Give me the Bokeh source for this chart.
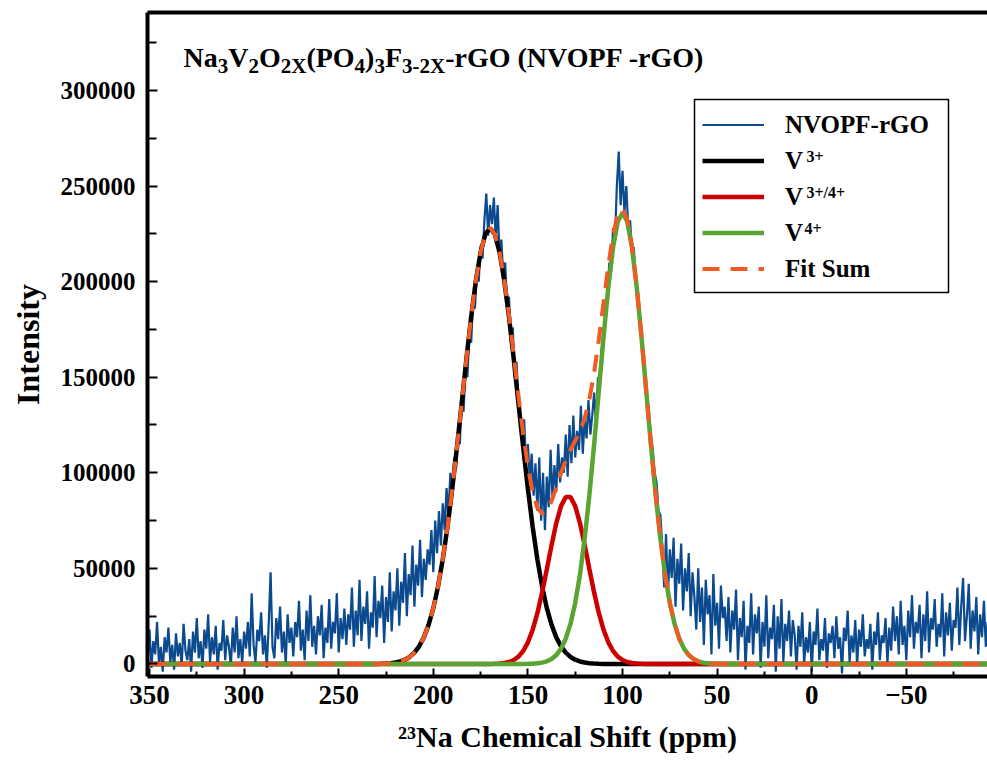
from bokeh.plotting import figure
from bokeh.models import Range1d, LinearAxis, FixedTicker, Label, Legend, LegendItem, BoxAnnotation
from bokeh.embed import file_html
from bokeh.resources import INLINE

# ---------------- data ----------------
# measured spectrum, 1 ppm steps from 351 to -93 ppm, intensity in thousands
spec_x = list(range(351, -94, -1))
spec_y_k = [
    # 351 .. 326
    3, 18, -2, 12, 5, 22, 0, 9, -4, 14, 6, 19, 1, 10, -3, 16, 4, 11, -1, 21, 7, 2, 13, -4, 17, 6,
    # 325 .. 300
    24, 3, 12, -2, 18, 8, 26, 1, 14, 5, 20, -3, 11, 7, 23, 2, 15, 9, -1, 19, 6, 25, 3, 13, 0, 17,
    # 299 .. 274
    8, 22, 4, 37, 10, 1, 18, 12, 27, 5, 15, -2, 21, 48, 9, 3, 24, 13, 30, 6, 17, 0, 26, 11, 19, 4,
    # 273 .. 247
    22, 14, 33, 7, 18, 2, 28, 12, 36, 9, 20, 5, 25, 15, 31, 3, 19, 11, 34, 8, 22, 16, 37, 6, 24, 13, 29,
    # 246 .. 221
    10, 26, 18, 40, 9, 28, 15, 44, 12, 30, 21, 38, 8, 27, 19, 46, 14, 33, 24, 41, 11, 35, 22, 48, 17, 38,
    # 220 .. 203
    28, 50, 20, 43, 32, 58, 25, 47, 36, 62, 30, 52, 41, 65, 35, 55, 44, 60,
    # 202 .. 186
    52, 70, 48, 75, 58, 80, 62, 84, 70, 92, 78, 100, 88, 108, 102, 120, 115,
    # 185 .. 155
    140, 132, 155, 150, 172, 168, 190, 186, 205, 200, 219, 212, 232, 246, 224, 240, 230, 244, 222, 240,
    214, 222, 200, 210, 186, 192, 168, 176, 150, 158, 136,
    # 154 .. 146
    125, 118, 128, 105, 115, 96, 110, 88, 105,
    # 145 .. 131
    80, 108, 75, 100, 70, 98, 82, 112, 86, 104, 90, 115, 95, 108, 100,
    # 130 .. 117
    120, 98, 125, 105, 130, 108, 122, 112, 135, 110, 128, 118, 138, 120,
    # 116 .. 110
    130, 142, 125, 150, 145, 165, 170,
    # 109 .. 90
    185, 192, 210, 205, 228, 222, 250, 268, 240, 258, 236, 250, 228, 232, 215, 218, 198, 196, 178, 176,
    # 89 .. 80
    160, 150, 140, 130, 120, 112, 100, 95, 80, 78,
    # 79 .. 63
    62, 40, 68, 35, 60, 45, 66, 30, 55, 42, 63, 28, 50, 38, 58, 25, 48,
    # 62 .. 45
    35, 18, 50, 22, 40, 10, 44, 26, 36, 5, 47, 20, 32, 8, 41, 24, 30, 12,
    # 44 .. 10
    35, 6, 28, 18, 39, 2, 24, 14, 33, -3, 20, 11, 37, 5, 26, 16, 30, -2, 22, 9, 36, 3, 19, 13, 31, -4,
    25, 8, 34, 1, 21, 12, 28, 4, 23,
    # 9 .. -43
    15, -3, 20, 9, 27, 0, 14, 6, 22, -4, 17, 10, 29, 2, 13, 7, 24, -2, 16, 11,
    20, 3, 25, 8, 14, -5, 19, 12, 28, 1, 15, 6, 23, -1, 18, 9, 26, 4, 13, 8,
    21, -3, 17, 10, 27, 2, 15, 11, 24, 0, 19, 7, 30,
    # -44 .. -93
    12, 25, 5, 33, 10, 20, 2, 28, 14, 36, 8, 22, 16, 31, 3, 26, 12, 38, 6, 24,
    18, 34, 9, 21, 14, 37, 4, 27, 15, 32, 7, 23, 19, 40, 10, 30, 45, 12, 25, 42,
    8, 28, 17, 35, 5, 26, 14, 33, 9, 22,
]
spec_y = [v * 1000 for v in spec_y_k]

# fitted components (ppm grid)
fit_x = [350.0,
         230.0, 227.5, 225.0, 222.5, 220.0, 217.5, 215.0, 212.5, 210.0, 207.5, 205.0, 202.5, 200.0,
         197.5, 195.0, 192.5, 190.0, 187.5, 185.0, 182.5, 180.0, 177.5, 175.0, 172.5, 170.0, 167.5,
         165.0, 162.5, 160.0, 157.5, 155.0, 152.5, 150.0, 147.5, 145.0, 142.5, 140.0, 137.5, 135.0,
         132.5, 130.0, 127.5, 125.0, 122.5, 120.0, 117.5, 115.0, 112.5, 110.0, 107.5, 105.0, 102.5,
         100.0, 97.5, 95.0, 92.5, 90.0, 87.5, 85.0, 82.5, 80.0, 77.5, 75.0, 72.5, 70.0, 67.5, 65.0,
         62.5, 60.0, 57.5, 55.0, 52.5, 50.0, 47.5, 45.0, 42.5, 40.0,
         -95.0]
v3 = [0,
      0, 100, 230, 420, 760, 1320, 2240, 3690, 5910, 9200, 13920, 20460, 29230,
      40580, 54740, 71790, 91500, 113330, 136420, 159600, 181470, 200530, 215350, 224770, 228000, 224770,
      215350, 200530, 181470, 159600, 136420, 113330, 91500, 71790, 54740, 40580, 29230, 20460, 13920,
      9200, 5910, 3690, 2240, 1320, 760, 420, 230, 100, 0, 0, 0, 0,
      0, 0, 0, 0, 0, 0, 0, 0, 0, 0, 0, 0, 0, 0, 0,
      0, 0, 0, 0, 0, 0, 0, 0, 0, 0,
      0]
v34 = [0,
       0, 0, 0, 0, 0, 0, 0, 0, 0, 0, 0, 0, 0,
       0, 0, 0, 0, 0, 0, 0, 0, 0, 0, 0, 0, 100,
       230, 500, 1050, 2070, 3870, 6820, 11350, 17870, 26570, 37330, 49570, 62180, 73710,
       82560, 87380, 87380, 82560, 73710, 62180, 49570, 37330, 26570, 17870, 11350, 6820, 3870,
       2070, 1050, 500, 230, 100, 0, 0, 0, 0, 0, 0, 0, 0, 0, 0,
       0, 0, 0, 0, 0, 0, 0, 0, 0, 0,
       0]
v4 = [0,
      0, 0, 0, 0, 0, 0, 0, 0, 0, 0, 0, 0, 0,
      0, 0, 0, 0, 0, 0, 0, 0, 0, 0, 0, 0, 0,
      0, 0, 0, 0, 0, 0, 80, 170, 360, 730, 1410, 2620, 4680,
      8040, 13250, 20990, 31940, 46700, 65620, 88570, 114870, 143140, 171370, 197120, 217860, 231330,
      236000, 231330, 217860, 197120, 171370, 143140, 114870, 88570, 65620, 46700, 31940, 20990, 13250, 8040, 4680,
      2620, 1410, 730, 360, 170, 80, 0, 0, 0, 0,
      0]
fit_sum = [0,
           0, 100, 230, 420, 760, 1320, 2240, 3690, 5910, 9200, 13920, 20460, 29230,
           40580, 54740, 71790, 91500, 113330, 136420, 159600, 181470, 200530, 215350, 224770, 228000, 224870,
           215580, 201030, 182520, 161670, 140290, 120150, 102930, 89830, 81670, 78640, 80210, 85260, 92310,
           99800, 106540, 112060, 116740, 121730, 128560, 138560, 152430, 169810, 189240, 208470, 224680, 235200,
           238070, 232380, 218360, 197350, 171470, 143140, 114870, 88570, 65620, 46700, 31940, 20990, 13250, 8040, 4680,
           2620, 1410, 730, 360, 170, 80, 0, 0, 0, 0,
           0]

x_ticks = [350, 300, 250, 200, 150, 100, 50, 0, -50]
x_tick_labels = ["350", "300", "250", "200", "150", "100", "50", "0", "\u221250"]
x_minor_ticks = [325, 275, 225, 175, 125, 75, 25, -25, -75]
y_ticks = [0, 50000, 100000, 150000, 200000, 250000, 300000]
y_tick_labels = ["0", "50000", "100000", "150000", "200000", "250000", "300000"]
y_minor_ticks = [25000, 75000, 125000, 175000, 225000, 275000, 325000]

legend_labels = ["NVOPF-rGO", "V", "V", "V", "Fit Sum"]
legend_sups = [None, "3+", "3+/4+", "4+", None]

title_pieces = [("Na", False), ("3", True), ("V", False), ("2", True), ("O", False), ("2X", True),
                ("(PO", False), ("4", True), (")", False), ("3", True), ("F", False), ("3-2X", True),
                ("-rGO (NVOPF -rGO)", False)]
x_title = "\u00b2\u00b3Na Chemical Shift (ppm)"
y_title = "Intensity"

# ---------------- styling ----------------
FONT = "Liberation Serif"
C_DATA = "#0b4a8e"
C_RED = "#cc0000"
C_GREEN = "#5aa532"
C_ORANGE = "#f15a22"

FRAME_LEFT = 147      # page px
FRAME_TOP = 12
FRAME_BOTTOM = 676

p = figure(width=987, height=766,
           x_range=Range1d(351.06, -92.9), y_range=Range1d(-6538, 340743),
           output_backend="svg", toolbar_location=None,
           min_border_left=FRAME_LEFT, min_border_right=0, min_border_top=FRAME_TOP,
           min_border_bottom=766 - FRAME_BOTTOM,
           x_axis_label=x_title, y_axis_label=y_title)
p.outline_line_color = None
p.grid.visible = False
p.background_fill_color = "white"
p.border_fill_color = "white"

for ax in (p.xaxis[0], p.yaxis[0]):
    ax.axis_line_width = 4
    ax.axis_line_color = "black"
    ax.major_tick_line_width = 2
    ax.minor_tick_line_width = 2
    ax.major_tick_line_color = "black"
    ax.minor_tick_line_color = "black"
    ax.major_tick_out = 0
    ax.minor_tick_out = 0
    ax.major_label_text_font = FONT
    ax.major_label_text_font_style = "bold"
    ax.major_label_text_color = "black"
    ax.axis_label_text_font = FONT
    ax.axis_label_text_font_style = "bold"
    ax.axis_label_text_color = "black"

xa = p.xaxis[0]
xa.ticker = FixedTicker(ticks=x_ticks, minor_ticks=x_minor_ticks)
xa.major_label_overrides = dict(zip(x_ticks, x_tick_labels))
xa.major_tick_in = 8
xa.minor_tick_in = 5
xa.major_label_text_font_size = "27px"
xa.major_label_standoff = 9
xa.axis_label_text_font_size = "30px"
xa.axis_label_standoff = 13

ya = p.yaxis[0]
ya.ticker = FixedTicker(ticks=y_ticks, minor_ticks=y_minor_ticks)
ya.major_label_overrides = dict(zip(y_ticks, y_tick_labels))
ya.major_tick_in = 10
ya.minor_tick_in = 9
ya.major_label_text_font_size = "25px"
ya.major_label_standoff = 12
ya.axis_label_text_font_size = "32px"
ya.axis_label_standoff = 12

top = LinearAxis(ticker=FixedTicker(ticks=[]), axis_line_width=4, axis_line_color="black",
                 major_tick_in=0, major_tick_out=0, minor_tick_in=0, minor_tick_out=0,
                 major_label_standoff=0, major_label_text_font_size="0px")
p.add_layout(top, "above")

r_data = p.line(spec_x, spec_y, line_color=C_DATA, line_width=2.2)
r_v3 = p.line(fit_x, v3, line_color="black", line_width=4.5)
r_v34 = p.line(fit_x, v34, line_color=C_RED, line_width=4.5)
r_v4 = p.line(fit_x, v4, line_color=C_GREEN, line_width=4.5)
r_fit = p.line(fit_x, fit_sum, line_color=C_ORANGE, line_width=4, line_dash="17 11")


def sx(page_x):
    return page_x - FRAME_LEFT


def sy(page_y):
    return FRAME_BOTTOM - page_y


# legend box (drawn separately so that the superscripts can sit on top of it)
LEG_L, LEG_R, LEG_T, LEG_B = 694, 948, 99, 292
p.add_layout(BoxAnnotation(left=sx(LEG_L), right=sx(LEG_R), top=sy(LEG_T), bottom=sy(LEG_B),
                           left_units="screen", right_units="screen", top_units="screen", bottom_units="screen",
                           fill_color="white", fill_alpha=1.0, line_color="black", line_alpha=1.0,
                           line_width=1.5, level="annotation"))

renderers = [r_data, r_v3, r_v34, r_v4, r_fit]
legend = Legend(items=[LegendItem(label=l, renderers=[r]) for l, r in zip(legend_labels, renderers)],
                location=(sx(LEG_L) + 8, sy(LEG_B) + 9), orientation="vertical", padding=10, spacing=7,
                margin=0, glyph_width=62, glyph_height=29, label_height=29, label_width=151,
                label_standoff=21,
                label_text_font=FONT, label_text_font_style="bold", label_text_font_size="25px",
                label_text_color="black",
                border_line_color=None, background_fill_alpha=0.0)
p.add_layout(legend)


def add_text(txt, page_x, page_y, size, align="left"):
    p.add_layout(Label(x=sx(page_x), y=sy(page_y), x_units="screen", y_units="screen",
                       text=txt, text_font=FONT, text_font_style="bold", text_font_size=f"{size}px",
                       text_baseline="alphabetic", text_align=align, text_color="black",
                       level="overlay"))


# superscripts of the legend labels
row_center = LEG_T + 10 + 14.5
for i, sup in enumerate(legend_sups):
    if sup is None:
        continue
    cx = 804 if sup == "4+" else 806
    add_text(sup, cx, row_center + 36 * i - 4, 16)

# title with subscripts (Times-bold advance widths)
W = {'N': .722, 'a': .5, 'V': .722, 'O': .778, '(': .333, 'P': .611, ')': .333, 'F': .611, '-': .333,
     'r': .444, 'G': .778, ' ': .25, 'X': .722}
for d in "0123456789":
    W[d] = .5
tx = 183.0
for txt, sub in title_pieces:
    size = 21 if sub else 28
    add_text(txt, tx, 65 if sub else 57, size)
    tx += sum(W[c] for c in txt) * size

open("out.html", "w").write(file_html(p, INLINE))
